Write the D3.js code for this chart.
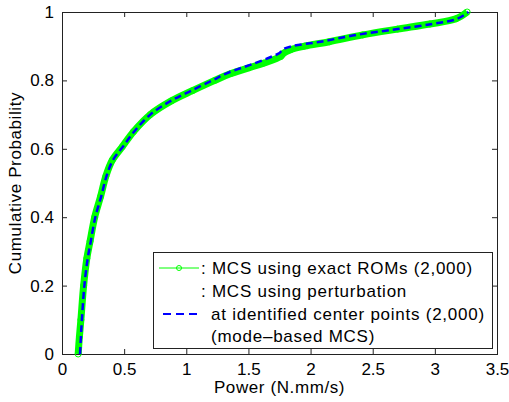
<!DOCTYPE html>
<html>
<head>
<meta charset="utf-8">
<script src="https://cdn.jsdelivr.net/npm/d3@7"></script>
<style>
  body { margin: 0; background: #fff; }
  text { font-family: "Liberation Sans", Arial, sans-serif; fill: #000; }
</style>
</head>
<body>
<div class="canvas"></div>
<script>
// data
const probLevels = [0, 0.05, 0.1, 0.2, 0.28, 0.33, 0.4, 0.46, 0.52, 0.567, 0.606, 0.65, 0.7, 0.74, 0.77, 0.8, 0.82, 0.85, 0.87, 0.88, 0.89, 0.9, 0.913, 0.933, 0.95, 0.965, 0.98, 1.0];
const exactRomPower = [0.13, 0.14, 0.152, 0.174, 0.2, 0.226, 0.263, 0.31, 0.353, 0.405, 0.485, 0.575, 0.71, 0.88, 1.05, 1.23, 1.36, 1.62, 1.76, 1.785, 1.84, 1.95, 2.15, 2.42, 2.7, 2.96, 3.17, 3.26];
const modeBasedPower = [0.145, 0.152, 0.16, 0.18, 0.207, 0.232, 0.268, 0.315, 0.358, 0.41, 0.49, 0.58, 0.71, 0.875, 1.04, 1.21, 1.32, 1.55, 1.69, 1.75, 1.775, 1.85, 2.08, 2.37, 2.7, 2.98, 3.18, 3.27];
const xTicks = [0, 0.5, 1, 1.5, 2, 2.5, 3, 3.5];
const yTicks = [0, 0.2, 0.4, 0.6, 0.8, 1];
const legendLines = [': MCS using exact ROMs (2,000)', ': MCS using perturbation', 'at identified center points (2,000)', '(mode\u2013based MCS)'];

// dimensions
const dims = { width: 509, height: 402 };
const plot = { left: 62, right: 497, top: 12, bottom: 354 };

const svg = d3.select('.canvas')
    .append('svg')
    .attr('width', dims.width)
    .attr('height', dims.height);

const x = d3.scaleLinear().domain([0, 3.5]).range([plot.left, plot.right]);
const y = d3.scaleLinear().domain([0, 1]).range([plot.bottom, plot.top]);

// axes with inward ticks on all four sides
const fmt = d => d3.format('')(d);
const axisFont = g => g.selectAll('text')
    .style('font-size', '17px')
    .style('font-family', '"Liberation Sans", Arial, sans-serif');

svg.append('g')
    .attr('transform', `translate(0, ${plot.bottom})`)
    .call(d3.axisBottom(x).tickValues(xTicks).tickFormat(fmt).tickSizeInner(-5).tickSizeOuter(0).tickPadding(9))
    .call(axisFont)
    .call(g => g.select('.domain').remove());

svg.append('g')
    .attr('transform', `translate(0, ${plot.top})`)
    .call(d3.axisTop(x).tickValues(xTicks).tickFormat('').tickSizeInner(-5).tickSizeOuter(0))
    .call(g => g.select('.domain').remove());

svg.append('g')
    .attr('transform', `translate(${plot.left}, 0)`)
    .call(d3.axisLeft(y).tickValues(yTicks).tickFormat(fmt).tickSizeInner(-5).tickSizeOuter(0).tickPadding(8))
    .call(axisFont)
    .call(g => g.select('.domain').remove());

svg.append('g')
    .attr('transform', `translate(${plot.right}, 0)`)
    .call(d3.axisRight(y).tickValues(yTicks).tickFormat('').tickSizeInner(-5).tickSizeOuter(0))
    .call(g => g.select('.domain').remove());

svg.selectAll('.tick line').attr('stroke', '#222');

// frame
svg.append('rect')
    .attr('x', plot.left + 0.5)
    .attr('y', plot.top + 0.5)
    .attr('width', plot.right - plot.left)
    .attr('height', plot.bottom - plot.top)
    .attr('fill', 'none')
    .attr('stroke', '#222');

// axis labels
svg.append('text')
    .attr('x', (plot.left + plot.right) / 2)
    .attr('y', 393)
    .attr('text-anchor', 'middle')
    .style('font-size', '17px')
    .style('letter-spacing', '0.6px')
    .text('Power (N.mm/s)');

svg.append('text')
    .attr('transform', `translate(21, ${(plot.top + plot.bottom) / 2}) rotate(-90)`)
    .attr('text-anchor', 'middle')
    .style('font-size', '17px')
    .style('letter-spacing', '0.6px')
    .text('Cumulative Probability');

// curves
const exactData = probLevels.map((p, i) => ({ x: exactRomPower[i], p }));
const modeData = probLevels.map((p, i) => ({ x: modeBasedPower[i], p }));

const line = d3.line()
    .x(d => x(d.x))
    .y(d => y(d.p))
    .curve(d3.curveCatmullRom.alpha(0.5));

svg.append('path')
    .datum(exactData)
    .attr('d', line)
    .attr('fill', 'none')
    .attr('stroke', '#00ff00')
    .attr('stroke-width', 7)
    .attr('stroke-linejoin', 'round');

svg.append('g').selectAll('circle')
    .data(exactData)
    .enter()
    .append('circle')
        .attr('cx', d => x(d.x))
        .attr('cy', d => y(d.p))
        .attr('r', 3)
        .attr('fill', 'none')
        .attr('stroke', '#00ff00');

svg.append('path')
    .datum(modeData)
    .attr('d', line)
    .attr('fill', 'none')
    .attr('stroke', '#0000ff')
    .attr('stroke-width', 2.5)
    .attr('stroke-dasharray', '7,4');

// legend
const legend = svg.append('g');

legend.append('rect')
    .attr('x', 153.5)
    .attr('y', 252.5)
    .attr('width', 339)
    .attr('height', 96)
    .attr('fill', '#fff')
    .attr('stroke', '#222');

legend.append('line')
    .attr('x1', 159).attr('x2', 199)
    .attr('y1', 268).attr('y2', 268)
    .attr('stroke', '#00ff00');

legend.append('circle')
    .attr('cx', 179).attr('cy', 268).attr('r', 2.5)
    .attr('fill', 'none')
    .attr('stroke', '#00ff00');

legend.append('line')
    .attr('x1', 163).attr('x2', 198)
    .attr('y1', 314).attr('y2', 314)
    .attr('stroke', '#0000ff')
    .attr('stroke-width', 2)
    .attr('stroke-dasharray', '8,5');

const legendX = [201, 201, 211, 211];
const legendY = [268, 291, 314, 336];

legend.selectAll('.leg-text')
    .data(legendLines)
    .enter()
    .append('text')
        .attr('class', 'leg-text')
        .attr('x', (d, i) => legendX[i])
        .attr('y', (d, i) => legendY[i])
        .attr('dy', '0.35em')
        .style('font-size', '17px')
        .style('letter-spacing', '0.75px')
        .text(d => d);
</script>
</body>
</html>
